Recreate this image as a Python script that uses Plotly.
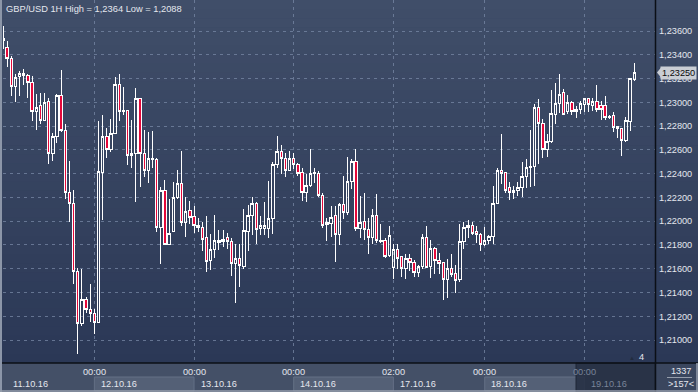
import plotly.graph_objects as go

# ---------------- data ----------------
title_text = "GBP/USD 1H High = 1,2364 Low = 1,2088"

opens = [1.2352, 1.2346, 1.2337, 1.2313, 1.2322, 1.2323, 1.2323, 1.2317, 1.2292, 1.2297,
         1.2285, 1.2301, 1.2257, 1.2271, 1.2306, 1.2276, 1.2224, 1.2215, 1.2158, 1.2114,
         1.2134, 1.2126, 1.2122, 1.2115, 1.2241, 1.2271, 1.2260, 1.2274, 1.2315, 1.2292,
         1.2293, 1.2255, 1.2257, 1.2303, 1.2257, 1.2243, 1.2252, 1.2252, 1.2195, 1.2226,
         1.2180, 1.2191, 1.2220, 1.2232, 1.2199, 1.2209, 1.2204, 1.2195, 1.2195, 1.2186,
         1.2167, 1.2176, 1.2182, 1.2183, 1.2186, 1.2183, 1.2164, 1.2169, 1.2162, 1.2191,
         1.2205, 1.2215, 1.2194, 1.2194, 1.2194, 1.2202, 1.2248, 1.2259, 1.2253, 1.2243,
         1.2253, 1.2248, 1.2241, 1.2224, 1.2230, 1.2240, 1.2240, 1.2222, 1.2197, 1.2198,
         1.2205, 1.2189, 1.2214, 1.2207, 1.2233, 1.2250, 1.2194, 1.2200, 1.2193, 1.2186,
         1.2205, 1.2183, 1.2184, 1.2171, 1.2161, 1.2176, 1.2170, 1.2160, 1.2169, 1.2165,
         1.2157, 1.2162, 1.2186, 1.2162, 1.2177, 1.2167, 1.2165, 1.2151, 1.2160, 1.2156,
         1.2151, 1.2183, 1.2195, 1.2196, 1.2191, 1.2189, 1.2180, 1.2184, 1.2187, 1.2215,
         1.2243, 1.2241, 1.2228, 1.2224, 1.2226, 1.2228, 1.2238, 1.2245, 1.2246, 1.2296,
         1.2282, 1.2260, 1.2267, 1.2290, 1.2299, 1.2308, 1.2292, 1.2300, 1.2292, 1.2294,
         1.2298, 1.2303, 1.2297, 1.2301, 1.2297, 1.2297, 1.2287, 1.2289, 1.2280, 1.2278,
         1.2268, 1.2284, 1.2319]
highs = [1.2364, 1.2352, 1.2339, 1.2324, 1.2326, 1.2328, 1.2324, 1.2322, 1.2307, 1.2308,
         1.2308, 1.2304, 1.2274, 1.2307, 1.2327, 1.2282, 1.2251, 1.2226, 1.2161, 1.2160,
         1.2136, 1.2147, 1.2126, 1.2284, 1.2289, 1.2278, 1.2286, 1.2321, 1.2324, 1.2313,
         1.2293, 1.2285, 1.2312, 1.2304, 1.2277, 1.2275, 1.2276, 1.2253, 1.2229, 1.2235,
         1.2219, 1.2233, 1.2243, 1.2259, 1.2220, 1.2217, 1.2213, 1.2203, 1.2199, 1.2204,
         1.2189, 1.2205, 1.2193, 1.2193, 1.2190, 1.2186, 1.2181, 1.2181, 1.2210, 1.2214,
         1.2220, 1.2216, 1.2204, 1.2216, 1.2234, 1.2250, 1.2272, 1.2264, 1.2257, 1.2259,
         1.2257, 1.2249, 1.2245, 1.2240, 1.2261, 1.2245, 1.2242, 1.2224, 1.2203, 1.2213,
         1.2213, 1.2215, 1.2238, 1.2254, 1.2252, 1.2261, 1.2221, 1.2224, 1.2203, 1.2210,
         1.2223, 1.2198, 1.2186, 1.2196, 1.2181, 1.2181, 1.2171, 1.2172, 1.2172, 1.2167,
         1.2163, 1.2189, 1.2196, 1.2184, 1.2178, 1.2173, 1.2165, 1.2168, 1.2172, 1.2163,
         1.2198, 1.2199, 1.2201, 1.2199, 1.2196, 1.2190, 1.2195, 1.2188, 1.2230, 1.2245,
         1.2273, 1.2241, 1.2233, 1.2230, 1.2233, 1.2250, 1.2252, 1.2277, 1.2299, 1.2303,
         1.2286, 1.2273, 1.2310, 1.2316, 1.2324, 1.2311, 1.2306, 1.2301, 1.2297, 1.2301,
         1.2303, 1.2304, 1.2304, 1.2315, 1.2301, 1.2305, 1.2289, 1.2292, 1.2280, 1.2278,
         1.2288, 1.2320, 1.2333]
lows = [1.2345, 1.2330, 1.2305, 1.2300, 1.2305, 1.2315, 1.2304, 1.2284, 1.2277, 1.2282,
        1.2284, 1.2248, 1.2251, 1.2266, 1.2275, 1.2219, 1.2199, 1.2147, 1.2088, 1.2112,
        1.2123, 1.2115, 1.2105, 1.2114, 1.2201, 1.2253, 1.2258, 1.2273, 1.2284, 1.2289,
        1.2247, 1.2245, 1.2216, 1.2229, 1.2237, 1.2232, 1.2245, 1.2191, 1.2164, 1.2180,
        1.2180, 1.2191, 1.2219, 1.2196, 1.2187, 1.2198, 1.2190, 1.2191, 1.2175, 1.2157,
        1.2159, 1.2169, 1.2176, 1.2178, 1.2177, 1.2154, 1.2131, 1.2145, 1.2160, 1.2175,
        1.2188, 1.2181, 1.2188, 1.2188, 1.2186, 1.2189, 1.2245, 1.2240, 1.2237, 1.2242,
        1.2244, 1.2238, 1.2217, 1.2216, 1.2229, 1.2232, 1.2220, 1.2194, 1.2183, 1.2187,
        1.2166, 1.2180, 1.2202, 1.2205, 1.2227, 1.2192, 1.2186, 1.2184, 1.2172, 1.2181,
        1.2182, 1.2182, 1.2169, 1.2170, 1.2151, 1.2160, 1.2153, 1.2151, 1.2158, 1.2153,
        1.2153, 1.2160, 1.2161, 1.2152, 1.2156, 1.2156, 1.2134, 1.2135, 1.2153, 1.2140,
        1.2149, 1.2177, 1.2186, 1.2188, 1.2182, 1.2175, 1.2179, 1.2181, 1.2181, 1.2215,
        1.2231, 1.2224, 1.2218, 1.2219, 1.2221, 1.2220, 1.2228, 1.2229, 1.2230, 1.2248,
        1.2253, 1.2254, 1.2266, 1.2282, 1.2291, 1.2290, 1.2290, 1.2289, 1.2287, 1.2290,
        1.2292, 1.2292, 1.2293, 1.2292, 1.2285, 1.2285, 1.2286, 1.2275, 1.2270, 1.2255,
        1.2267, 1.2276, 1.2318]
closes = [1.2354, 1.2337, 1.2313, 1.2321, 1.2324, 1.2324, 1.2317, 1.2292, 1.2296, 1.2285,
          1.2300, 1.2257, 1.2271, 1.2306, 1.2276, 1.2224, 1.2215, 1.2158, 1.2114, 1.2134,
          1.2126, 1.2122, 1.2115, 1.2242, 1.2271, 1.2260, 1.2274, 1.2315, 1.2292, 1.2293,
          1.2255, 1.2257, 1.2303, 1.2257, 1.2243, 1.2253, 1.2253, 1.2195, 1.2226, 1.2180,
          1.2190, 1.2220, 1.2232, 1.2199, 1.2208, 1.2203, 1.2196, 1.2196, 1.2185, 1.2166,
          1.2176, 1.2184, 1.2184, 1.2185, 1.2183, 1.2164, 1.2169, 1.2163, 1.2192, 1.2205,
          1.2215, 1.2193, 1.2196, 1.2196, 1.2202, 1.2248, 1.2259, 1.2253, 1.2243, 1.2253,
          1.2248, 1.2240, 1.2224, 1.2230, 1.2240, 1.2241, 1.2222, 1.2196, 1.2199, 1.2203,
          1.2189, 1.2214, 1.2207, 1.2233, 1.2250, 1.2194, 1.2199, 1.2193, 1.2186, 1.2205,
          1.2184, 1.2184, 1.2170, 1.2188, 1.2176, 1.2169, 1.2160, 1.2169, 1.2165, 1.2157,
          1.2162, 1.2186, 1.2161, 1.2177, 1.2167, 1.2164, 1.2151, 1.2160, 1.2155, 1.2150,
          1.2183, 1.2195, 1.2196, 1.2190, 1.2189, 1.2180, 1.2184, 1.2187, 1.2215, 1.2243,
          1.2240, 1.2226, 1.2224, 1.2226, 1.2228, 1.2238, 1.2245, 1.2246, 1.2296, 1.2282,
          1.2260, 1.2267, 1.2291, 1.2299, 1.2307, 1.2290, 1.2300, 1.2292, 1.2294, 1.2299,
          1.2303, 1.2298, 1.2301, 1.2294, 1.2294, 1.2287, 1.2288, 1.2279, 1.2278, 1.2268,
          1.2285, 1.2320, 1.2325]

bar_index = list(range(len(opens)))

time_tick_idx = [22, 46, 70, 94, 116, 140]
time_tick_txt = ["00:00", "00:00", "00:00", "02:00", "00:00", "00:00"]
date_labels = ["11.10.16", "12.10.16", "13.10.16", "14.10.16", "17.10.16", "18.10.16", "19.10.16"]
date_start_idx = [None, 22, 46, 70, 94, 116, 140]

price_ticks = [1.210, 1.212, 1.214, 1.216, 1.218, 1.220, 1.222, 1.224,
               1.226, 1.228, 1.230, 1.232, 1.234, 1.236]
price_tick_txt = [f"{v:.5f}".replace(".", ",") for v in price_ticks]
last_price = 1.2325
bars_total = "1337"
bars_visible = ">157<"
marker_count = "4"

# ---------------- layout geometry ----------------
W, H = 698, 392
ML, MR, MT, MB = 3, 43, 0, 29
PW, PH = W - ML - MR, H - MT - MB
X_RANGE = [0.0, 157.0]
Y_RANGE = [1.20807, 1.23861]


def px_x(px):
    return (px - ML) / PW


def px_y(py):
    return 1 - (py - MT) / PH


def idx_x(i):
    return (i - X_RANGE[0]) / (X_RANGE[1] - X_RANGE[0])


def val_y(v):
    return (v - Y_RANGE[0]) / (Y_RANGE[1] - Y_RANGE[0])


FONT = "Liberation Sans, Arial, sans-serif"
TXT = "#e4e7ee"
DIM = "#7a859a"

fig = go.Figure()
fig.add_trace(go.Candlestick(
    x=bar_index, open=opens, high=highs, low=lows, close=closes,
    increasing=dict(line=dict(color="#ffffff", width=1), fillcolor="rgba(0,0,0,0)"),
    decreasing=dict(line=dict(color="#ffffff", width=1), fillcolor="#e4083a"),
    whiskerwidth=0, hoverinfo="skip", showlegend=False,
))

shapes = []
# vertical gradient background (plot + right panel)
top_c = (64, 78, 105)
bot_c = (43, 56, 86)
n_bands = 40
for k in range(n_bands):
    t = (k + 0.5) / n_bands
    c = tuple(round(top_c[j] + (bot_c[j] - top_c[j]) * t) for j in range(3))
    y0 = PH * k / n_bands
    y1 = PH * (k + 1) / n_bands + 0.6
    shapes.append(dict(type="rect", xref="paper", yref="paper", layer="below",
                       x0=px_x(0), x1=px_x(W), y0=px_y(y1), y1=px_y(y0),
                       fillcolor=f"rgb{c}", line=dict(width=0)))

# bottom time panel
shapes.append(dict(type="rect", xref="paper", yref="paper", layer="above",
                   x0=px_x(0), x1=px_x(W), y0=px_y(H), y1=px_y(363),
                   fillcolor="rgb(68,80,103)", line=dict(width=0)))
# right-bottom corner panel
shapes.append(dict(type="rect", xref="paper", yref="paper", layer="above",
                   x0=px_x(656), x1=px_x(W), y0=px_y(H), y1=px_y(363),
                   fillcolor="rgb(58,70,94)", line=dict(width=0)))
# alternating date boxes
for a, b in [(22, 46), (70, 94), (116, 140)]:
    shapes.append(dict(type="rect", xref="paper", yref="paper", layer="above",
                       x0=idx_x(a), x1=idx_x(b), y0=px_y(H - 1), y1=px_y(377),
                       fillcolor="rgb(84,96,118)", line=dict(color="rgb(100,112,134)", width=1)))
# dark overlay at the right end of the time panel
shapes.append(dict(type="rect", xref="paper", yref="paper", layer="above",
                   x0=px_x(576), x1=px_x(655), y0=px_y(H), y1=px_y(363),
                   fillcolor="rgba(36,46,66,0.85)", line=dict(color="rgb(30,38,54)", width=1)))
# separator lines
shapes.append(dict(type="line", xref="paper", yref="paper", layer="above",
                   x0=px_x(0), x1=px_x(W), y0=px_y(363), y1=px_y(363),
                   line=dict(color="#0b0f16", width=1.5)))
shapes.append(dict(type="line", xref="paper", yref="paper", layer="above",
                   x0=px_x(655.5), x1=px_x(655.5), y0=px_y(H), y1=px_y(0),
                   line=dict(color="#0b0f16", width=1.5)))
shapes.append(dict(type="line", xref="paper", yref="paper", layer="above",
                   x0=px_x(1), x1=px_x(1), y0=px_y(H), y1=px_y(0),
                   line=dict(color="rgb(140,150,168)", width=2)))
shapes.append(dict(type="line", xref="paper", yref="paper", layer="above",
                   x0=px_x(0), x1=px_x(W), y0=px_y(H - 1), y1=px_y(H - 1),
                   line=dict(color="rgb(150,158,172)", width=1.5)))
shapes.append(dict(type="line", xref="paper", yref="paper", layer="above",
                   x0=px_x(W - 1), x1=px_x(W - 1), y0=px_y(H), y1=px_y(363),
                   line=dict(color="rgb(150,158,172)", width=1.5)))
shapes.append(dict(type="line", xref="paper", yref="paper", layer="above",
                   x0=px_x(667), x1=px_x(692), y0=px_y(377.5), y1=px_y(377.5),
                   line=dict(color="rgb(150,158,172)", width=1)))
# notch of the last-price label
ly = val_y(last_price)
shapes.append(dict(type="path", xref="paper", yref="paper", layer="above",
                   path=f"M {px_x(657)},{ly} L {px_x(661)},{ly + 5 / PH} L {px_x(661)},{ly - 5 / PH} Z",
                   fillcolor="#c9cdd4", line=dict(width=0)))

annotations = []
annotations.append(dict(text=title_text, xref="paper", yref="paper", x=px_x(4), y=px_y(9),
                        xanchor="left", yanchor="middle", showarrow=False,
                        font=dict(family=FONT, size=9.3, color=TXT)))
for i, t in zip(time_tick_idx, time_tick_txt):
    dim = i >= 140
    annotations.append(dict(text=t, xref="paper", yref="paper", x=idx_x(i), y=px_y(371.5),
                            xanchor="center", yanchor="middle", showarrow=False,
                            font=dict(family=FONT, size=9.2, color=DIM if dim else TXT)))
for lab, s in zip(date_labels, date_start_idx):
    xpos = px_x(11) if s is None else idx_x(s) + 4.5 / PW
    dim = s is not None and s >= 140
    annotations.append(dict(text=lab, xref="paper", yref="paper", x=xpos, y=px_y(383.5),
                            xanchor="left", yanchor="middle", showarrow=False,
                            font=dict(family=FONT, size=9.2, color=DIM if dim else TXT)))
annotations.append(dict(text=bars_total, xref="paper", yref="paper", x=px_x(681), y=px_y(371),
                        xanchor="center", yanchor="middle", showarrow=False,
                        font=dict(family=FONT, size=9.2, color=TXT)))
annotations.append(dict(text=bars_visible, xref="paper", yref="paper", x=px_x(681), y=px_y(384),
                        xanchor="center", yanchor="middle", showarrow=False,
                        font=dict(family=FONT, size=9.2, color=TXT)))
annotations.append(dict(text=marker_count, xref="paper", yref="paper", x=px_x(641), y=px_y(357),
                        xanchor="center", yanchor="middle", showarrow=False,
                        font=dict(family=FONT, size=9.2, color=TXT)))
annotations.append(dict(text="▲", xref="paper", yref="paper", x=px_x(632), y=px_y(358),
                        xanchor="center", yanchor="middle", showarrow=False,
                        font=dict(family=FONT, size=6, color="#222c3e")))
annotations.append(dict(text=f"{last_price:.5f}".replace(".", ","), xref="paper", yref="y",
                        x=px_x(660), y=last_price, xanchor="left", yanchor="middle",
                        showarrow=False, bgcolor="#c9cdd4", borderpad=1,
                        font=dict(family=FONT, size=9.2, color="#0a0a0a")))

fig.update_layout(
    width=W, height=H,
    margin=dict(l=ML, r=MR, t=MT, b=MB, pad=0),
    paper_bgcolor="rgb(50,62,90)",
    plot_bgcolor="rgba(0,0,0,0)",
    boxgap=0.18,
    shapes=shapes, annotations=annotations,
    showlegend=False, hovermode=False,
    xaxis=dict(range=X_RANGE, tickvals=time_tick_idx, showticklabels=False, ticks="",
               showgrid=True, gridcolor="rgba(120,136,166,0.75)", griddash="3px,4px",
               gridwidth=1, zeroline=False, showline=False, rangeslider=dict(visible=False),
               fixedrange=True),
    yaxis=dict(range=Y_RANGE, side="right", tickvals=price_ticks, ticktext=price_tick_txt,
               ticks="", showgrid=True, gridcolor="rgba(120,136,166,0.75)",
               griddash="3px,4px", gridwidth=1, zeroline=False, showline=False,
               ticklabelstandoff=3,
               tickfont=dict(family=FONT, size=9.2, color=TXT), fixedrange=True),
)

post_js = (
    "document.body.style.margin='0px';document.body.style.overflow='hidden';"
    "document.querySelectorAll('g.boxlayer path').forEach(function(p){"
    "p.setAttribute('shape-rendering','crispEdges');});"
)
fig.write_html("out.html", config={"displayModeBar": False}, post_script=post_js)
